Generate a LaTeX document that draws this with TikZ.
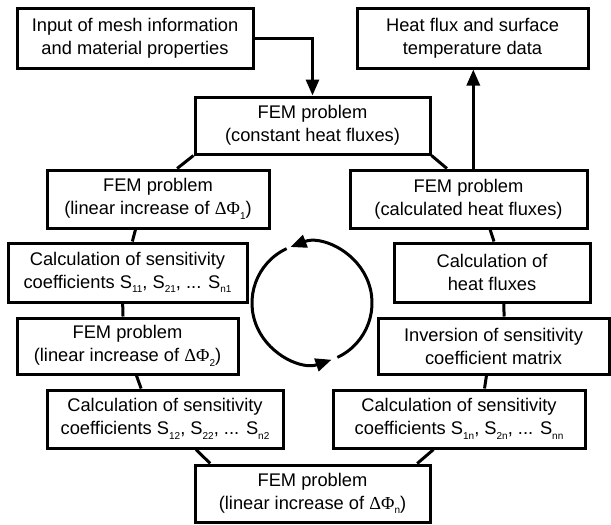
\documentclass[tikz,border=0pt]{standalone}
\usepackage{fontspec}
\setmainfont{Liberation Sans}
\newfontfamily\grk{Liberation Serif}
\usetikzlibrary{arrows.meta,calc}
\newcommand\lo[1]{\raisebox{-4.5pt}{\fontsize{10}{10}\selectfont #1}}
\newcommand\dphi[1]{{\grk ΔΦ}\lo{#1}}
\begin{document}
\begin{tikzpicture}[x=1pt,y=-1pt,
  box/.style={draw, line width=3pt, align=center, inner sep=0pt, font=\fontsize{18.3}{23}\selectfont},
  con/.style={line width=3pt},
  arr/.style={line width=3pt,-{Triangle[length=16pt,width=13pt]}},
  cyc/.style={line width=3pt,-{Triangle[length=16pt,width=13pt]}}]
\useasboundingbox (0,0) rectangle (611,525);
\node[box, minimum width=236pt, minimum height=60pt] (inp) at (135,38) {Input of mesh information\\and material properties};
\node[box, minimum width=231pt, minimum height=60pt] (out) at (472.5,38) {Heat flux and surface\\temperature data};
\node[box, minimum width=235pt, minimum height=57pt] (f0) at (312.5,125.5) {FEM problem\\(constant heat fluxes)};
\node[box, minimum width=222pt, minimum height=58pt] (f1) at (158,199) {FEM problem\\(linear increase of \dphi{1})};
\node[box, minimum width=237pt, minimum height=58pt] (fc) at (468.5,199) {FEM problem\\(calculated heat fluxes)};
\node[box, minimum width=239pt, minimum height=59pt] (s1) at (127.5,272.5) {Calculation of sensitivity\\coefficients S\lo{11}, S\lo{21}, ... S\lo{n1}};
\node[box, minimum width=196pt, minimum height=59pt] (hf) at (492,272.5) {Calculation of\\heat fluxes};
\node[box, minimum width=221pt, minimum height=56pt] (f2) at (127.5,346) {FEM problem\\(linear increase of \dphi{2})};
\node[box, minimum width=231pt, minimum height=56pt] (inv) at (493.5,346) {Inversion of sensitivity\\coefficient matrix};
\node[box, minimum width=236pt, minimum height=58pt] (s2) at (165,419) {Calculation of sensitivity\\coefficients S\lo{12}, S\lo{22}, ... S\lo{n2}};
\node[box, minimum width=252pt, minimum height=58pt] (sn) at (459,419) {Calculation of sensitivity\\coefficients S\lo{1n}, S\lo{2n}, ... S\lo{nn}};
\node[box, minimum width=235pt, minimum height=57pt] (fn) at (312.5,493.5) {FEM problem\\(linear increase of \dphi{n})};
% connectors
\draw[con] (f0.south west) -- ($(f1.north west)!0.585!(f1.north east)$);
\draw[con] (f0.south east) -- ($(fc.north west)!0.41!(fc.north east)$);
\draw[con] ($(f1.south west)!0.40!(f1.south east)$) -- ($(s1.north west)!0.52!(s1.north east)$);
\draw[con] ($(s1.south west)!0.48!(s1.south east)$) -- ($(f2.north west)!0.48!(f2.north east)$);
\draw[con] ($(f2.south west)!0.54!(f2.south east)$) -- ($(s2.north west)!0.40!(s2.north east)$);
\draw[con] ($(s2.south west)!0.63!(s2.south east)$) -- ($(fn.north west)!0.07!(fn.north east)$);
\draw[con] ($(sn.south west)!0.40!(sn.south east)$) -- ($(fn.north west)!0.94!(fn.north east)$);
\draw[con] ($(inv.south west)!0.47!(inv.south east)$) -- ($(sn.north west)!0.60!(sn.north east)$);
\draw[con] ($(hf.south west)!0.56!(hf.south east)$) -- ($(inv.north west)!0.545!(inv.north east)$);
\draw[con] ($(fc.south west)!0.59!(fc.south east)$) -- ($(hf.north west)!0.51!(hf.north east)$);
% arrows
\draw[arr] (inp.east) -| (f0.north);
\coordinate (up) at ($(fc.north west)!0.52!(fc.north east)$);
\draw[arr] (up) -- (up |- out.south);
% cycle
\coordinate (c) at (312,303);
\draw[cyc] ($(c)+(65:60)$) arc[start angle=65, end angle=-111, radius=60];
\draw[cyc] ($(c)+(-115:60)$) arc[start angle=-115, end angle=-289, radius=60];
\end{tikzpicture}
\end{document}
